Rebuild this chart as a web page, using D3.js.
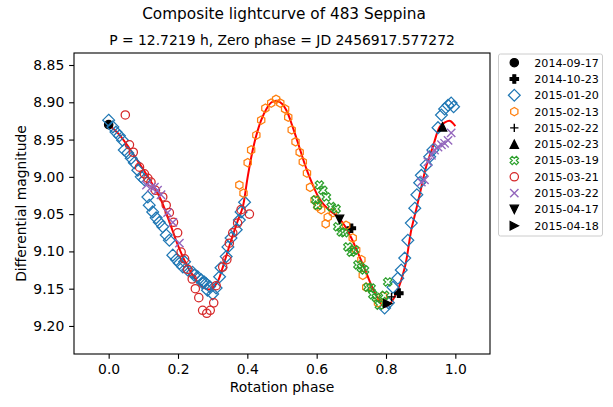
<!DOCTYPE html>
<html>
<head>
<meta charset="utf-8">
<script src="https://cdn.jsdelivr.net/npm/d3@7"></script>
<style>
  body { margin: 0; background: #fff; }
  svg { display: block; }
  text { font-family: "DejaVu Sans", "Liberation Sans", sans-serif; fill: #000; }
</style>
</head>
<body>
<svg id="chart" width="613" height="407"></svg>
<script>
// ---- Observing nights (legend labels) ----
const dates = ["2014-09-17", "2014-10-23", "2015-01-20", "2015-02-13", "2015-02-22",
               "2015-02-23", "2015-03-19", "2015-03-21", "2015-03-22", "2015-04-17", "2015-04-18"];

// ---- Phased photometry per night (rotation phase, differential magnitude) ----
const phase_2014_09_17 = [0.000];
const mag_2014_09_17   = [8.930];

const phase_2014_10_23 = [0.700, 0.837];
const mag_2014_10_23   = [9.069, 9.156];

const phase_2015_01_20 = [0.000, 0.012, 0.021, 0.031, 0.040, 0.045, 0.055, 0.065, 0.074, 0.084,
                          0.094, 0.103, 0.113, 0.117, 0.127, 0.137, 0.146, 0.156, 0.166, 0.175,
                          0.185, 0.195, 0.204, 0.214, 0.219, 0.228, 0.242, 0.247, 0.257, 0.267,
                          0.270, 0.276, 0.281, 0.285, 0.291, 0.300, 0.310, 0.320, 0.324, 0.339,
                          0.344, 0.353, 0.368, 0.377, 0.382, 0.392,
                          0.796, 0.807, 0.820, 0.834, 0.844, 0.854, 0.863, 0.873, 0.883, 0.889,
                          0.897, 0.902, 0.916, 0.926, 0.935, 0.950, 0.960, 0.969, 0.979, 0.988, 0.995];
const mag_2015_01_20   = [8.924, 8.933, 8.940, 8.945, 8.951, 8.964, 8.968, 8.975, 8.981, 8.991,
                          9.000, 9.004, 9.027, 9.038, 9.047, 9.055, 9.061, 9.067, 9.078, 9.085,
                          9.105, 9.111, 9.116, 9.121, 9.114, 9.125, 9.128, 9.132, 9.134, 9.138,
                          9.142, 9.141, 9.143, 9.152, 9.147, 9.157, 9.149, 9.134, 9.122, 9.107,
                          9.094, 9.082, 9.071, 9.058, 9.047, 9.034,
                          9.176, 9.169, 9.148, 9.136, 9.125, 9.109, 9.085, 9.062, 9.042, 9.024,
                          9.008, 8.998, 8.984, 8.973, 8.964, 8.934, 8.917, 8.909, 8.904, 8.901, 8.906];

const phase_2015_02_13 = [0.377, 0.389, 0.401, 0.411, 0.426, 0.440, 0.452, 0.469, 0.483, 0.495,
                          0.509, 0.518, 0.528, 0.539, 0.551, 0.560, 0.572, 0.581, 0.594, 0.603,
                          0.613, 0.626, 0.632, 0.647, 0.685, 0.704, 0.714, 0.729, 0.733, 0.743,
                          0.777, 0.791];
const mag_2015_02_13   = [9.011, 9.022, 8.981, 8.964, 8.944, 8.924, 8.908, 8.901, 8.896, 8.901,
                          8.909, 8.920, 8.937, 8.953, 8.967, 8.980, 8.995, 9.014, 9.031, 9.040,
                          9.044, 9.063, 9.054, 9.048, 9.065, 9.082, 9.098, 9.111, 9.132, 9.148,
                          9.169, 9.160];

const phase_2015_02_22 = [0.816];
const mag_2015_02_22   = [9.161];

const phase_2015_02_23 = [0.963];
const mag_2015_02_23   = [8.933];

const phase_2015_03_19 = [0.597, 0.603, 0.608, 0.618, 0.628, 0.642, 0.656, 0.661, 0.671, 0.680,
                          0.690, 0.700, 0.709, 0.719, 0.729, 0.738, 0.748, 0.757, 0.762, 0.772,
                          0.781, 0.796, 0.805];
const mag_2015_03_19   = [9.031, 9.038, 9.011, 9.018, 9.027, 9.040, 9.043, 9.067, 9.074, 9.075,
                          9.094, 9.101, 9.098, 9.118, 9.122, 9.125, 9.148, 9.149, 9.158, 9.162,
                          9.172, 9.159, 9.141];

const phase_2015_03_21 = [0.048, 0.060, 0.071, 0.089, 0.103, 0.113, 0.122, 0.135, 0.156, 0.166,
                          0.175, 0.187, 0.199, 0.209, 0.219, 0.228, 0.241, 0.250, 0.260, 0.271,
                          0.283, 0.293, 0.303, 0.310, 0.329, 0.341, 0.348, 0.358, 0.372, 0.382,
                          0.406];
const mag_2015_03_21   = [8.917, 8.957, 8.967, 8.987, 8.996, 9.002, 9.007, 9.018, 9.027, 9.038,
                          9.048, 9.061, 9.075, 9.101, 9.110, 9.124, 9.137, 9.150, 9.162, 9.179,
                          9.183, 9.179, 9.169, 9.146, 9.121, 9.111, 9.089, 9.075, 9.062, 9.044,
                          9.050];

const phase_2015_03_22 = [0.109, 0.123, 0.132, 0.141, 0.151, 0.170, 0.185, 0.204,
                          0.902, 0.911, 0.921, 0.931, 0.940, 0.950, 0.960, 0.969, 0.979, 0.988];
const mag_2015_03_22   = [9.011, 9.014, 9.014, 9.018, 9.024, 9.048, 9.061, 9.089,
                          9.007, 9.004, 8.980, 8.971, 8.964, 8.960, 8.957, 8.955, 8.951, 8.941];

const phase_2015_04_17 = [0.666];
const mag_2015_04_17   = [9.057];

const phase_2015_04_18 = [0.805];
const mag_2015_04_18   = [9.170];

// ---- Fourier fit of the composite lightcurve ----
const fitPhase = [0.000, 0.030, 0.060, 0.090, 0.120, 0.150, 0.175, 0.200, 0.225, 0.250,
                  0.275, 0.290, 0.300, 0.315, 0.330, 0.350, 0.370, 0.387, 0.400, 0.412,
                  0.425, 0.440, 0.455, 0.470, 0.485, 0.500, 0.515, 0.530, 0.545, 0.560,
                  0.575, 0.590, 0.605, 0.620, 0.640, 0.660, 0.680, 0.700, 0.720, 0.740,
                  0.760, 0.780, 0.795, 0.810, 0.830, 0.855, 0.873, 0.887, 0.900, 0.916,
                  0.935, 0.955, 0.970, 0.985, 1.000];
const fitMag   = [8.930, 8.943, 8.962, 8.983, 9.005, 9.030, 9.060, 9.092, 9.118, 9.137,
                  9.149, 9.151, 9.149, 9.140, 9.120, 9.090, 9.062, 9.040, 9.003, 8.972,
                  8.946, 8.924, 8.909, 8.900, 8.898, 8.902, 8.913, 8.932, 8.953, 8.975,
                  8.995, 9.012, 9.027, 9.037, 9.046, 9.053, 9.065, 9.082, 9.103, 9.125,
                  9.148, 9.166, 9.174, 9.171, 9.156, 9.120, 9.071, 9.044, 9.018, 8.986,
                  8.960, 8.933, 8.927, 8.925, 8.932];

// ---- Axis ticks ----
const xTicks = [0.0, 0.2, 0.4, 0.6, 0.8, 1.0];
const yTicks = [8.85, 8.90, 8.95, 9.00, 9.05, 9.10, 9.15, 9.20];

const phases = [phase_2014_09_17, phase_2014_10_23, phase_2015_01_20, phase_2015_02_13, phase_2015_02_22,
                phase_2015_02_23, phase_2015_03_19, phase_2015_03_21, phase_2015_03_22, phase_2015_04_17, phase_2015_04_18];
const mags   = [mag_2014_09_17, mag_2014_10_23, mag_2015_01_20, mag_2015_02_13, mag_2015_02_22,
                mag_2015_02_23, mag_2015_03_19, mag_2015_03_21, mag_2015_03_22, mag_2015_04_17, mag_2015_04_18];

// Marker style for each night
const styles = [
  { marker: "o", color: "#000000", filled: true },
  { marker: "P", color: "#000000", filled: true },
  { marker: "D", color: "#1f77b4", filled: false },
  { marker: "h", color: "#ff7f0e", filled: false },
  { marker: "+", color: "#000000", filled: false },
  { marker: "^", color: "#000000", filled: true },
  { marker: "X", color: "#2ca02c", filled: false },
  { marker: "o", color: "#d62728", filled: false },
  { marker: "x", color: "#9467bd", filled: false },
  { marker: "v", color: "#000000", filled: true },
  { marker: ">", color: "#000000", filled: true }
];

const series = dates.map((d, i) => ({
  label: d,
  points: phases[i].map((p, j) => ({ phase: p, mag: mags[i][j] })),
  ...styles[i]
}));

// ---- Layout ----
const W = 613, H = 407;
const plot = { left: 74, right: 490, top: 53, bottom: 354 };
const MS = 8.33;  // marker size in px

const svg = d3.select("#chart");

const x = d3.scaleLinear().domain([-0.1, 1.1]).range([plot.left, plot.right]);
// magnitudes grow downward
const y = d3.scaleLinear().domain([8.8339, 9.2376]).range([plot.top, plot.bottom]);

// Marker outline generator (unit shapes scaled to marker size s)
function markerPath(kind, s) {
  const u = s / 2;
  const poly = pts => "M" + pts.map(p => p[0].toFixed(2) + "," + p[1].toFixed(2)).join("L") + "Z";
  switch (kind) {
    case "o": return d3.path().toString() || `M${u},0A${u},${u} 0 1,1 ${-u},0A${u},${u} 0 1,1 ${u},0Z`;
    case "D": { const h = 0.7071 * s; return poly([[0, -h], [h, 0], [0, h], [-h, 0]]); }
    case "h": {
      const pts = [];
      for (let k = 0; k < 6; k++) {
        const a = Math.PI / 2 + k * Math.PI / 3;
        pts.push([u * Math.cos(a), -u * Math.sin(a)]);
      }
      return poly(pts);
    }
    case "^": return poly([[0, -u], [-u, u], [u, u]]);
    case "v": return poly([[0, u], [-u, -u], [u, -u]]);
    case ">": return poly([[u, 0], [-u, -u], [-u, u]]);
    case "P": {
      const t = s / 6;
      return poly([[-t, -u], [t, -u], [t, -t], [u, -t], [u, t], [t, t], [t, u], [-t, u], [-t, t], [-u, t], [-u, -t], [-t, -t]]);
    }
    case "X": {
      const base = [[-1, -2], [0, -1], [1, -2], [2, -1], [1, 0], [2, 1], [1, 2], [0, 1], [-1, 2], [-2, 1], [-1, 0], [-2, -1]];
      return poly(base.map(p => [p[0] * s / 4, p[1] * s / 4]));
    }
    case "+": return `M${-u},0H${u}M0,${-u}V${u}`;
    case "x": return `M${-u},${-u}L${u},${u}M${-u},${u}L${u},${-u}`;
  }
}
function circlePath(u) {
  return `M${u},0A${u},${u} 0 1,1 ${-u},0A${u},${u} 0 1,1 ${u},0Z`;
}
function shapeFor(kind, s) {
  return kind === "o" ? circlePath(s / 2) : markerPath(kind, s);
}
function applyStyle(sel, st) {
  const lineOnly = st.marker === "+" || st.marker === "x";
  sel.attr("d", shapeFor(st.marker, MS))
     .attr("fill", st.filled ? st.color : "none")
     .attr("stroke", st.color)
     .attr("stroke-width", lineOnly ? 1.4 : 1.25)
     .attr("stroke-linejoin", "miter");
}

// ---- Fit curve ----
const fitData = fitPhase.map((p, i) => ({ phase: p, mag: fitMag[i] }));
const line = d3.line().x(d => x(d.phase)).y(d => y(d.mag)).curve(d3.curveCatmullRom.alpha(0.5));

const clip = svg.append("defs").append("clipPath").attr("id", "plotclip")
  .append("rect").attr("x", plot.left).attr("y", plot.top)
  .attr("width", plot.right - plot.left).attr("height", plot.bottom - plot.top);

const gData = svg.append("g").attr("clip-path", "url(#plotclip)");

gData.append("path")
  .datum(fitData)
  .attr("d", line)
  .attr("fill", "none")
  .attr("stroke", "#ff0000")
  .attr("stroke-width", 2);

// ---- Observations ----
series.forEach(st => {
  gData.append("g")
    .selectAll("path")
    .data(st.points)
    .join("path")
    .attr("transform", d => `translate(${x(d.phase)},${y(d.mag)})`)
    .call(applyStyle, st);
});

// ---- Axes ----
const tickLen = 4.86, tickPad = 4.86;
const xAxis = d3.axisBottom(x).tickValues(xTicks).tickFormat(d3.format(".1f"))
  .tickSizeInner(tickLen).tickSizeOuter(0).tickPadding(tickPad);
const yAxis = d3.axisLeft(y).tickValues(yTicks).tickFormat(d3.format(".2f"))
  .tickSizeInner(tickLen).tickSizeOuter(0).tickPadding(tickPad);

const gx = svg.append("g").attr("transform", `translate(0,${plot.bottom})`).call(xAxis);
const gy = svg.append("g").attr("transform", `translate(${plot.left},0)`).call(yAxis);
[gx, gy].forEach(g => {
  g.select(".domain").remove();
  g.selectAll(".tick line").attr("stroke", "#000").attr("stroke-width", 1.1);
  g.selectAll(".tick text").attr("font-size", "13.9px").attr("font-family", "DejaVu Sans").attr("fill", "#000");
});

// Frame
svg.append("rect")
  .attr("x", plot.left).attr("y", plot.top)
  .attr("width", plot.right - plot.left).attr("height", plot.bottom - plot.top)
  .attr("fill", "none").attr("stroke", "#000").attr("stroke-width", 1.1);

// ---- Titles and labels ----
svg.append("text")
  .attr("x", 284).attr("y", 19)
  .attr("text-anchor", "middle")
  .attr("font-size", "15.3px")
  .text("Composite lightcurve of 483 Seppina");

svg.append("text")
  .attr("x", (plot.left + plot.right) / 2).attr("y", 45)
  .attr("text-anchor", "middle")
  .attr("font-size", "13.9px")
  .text("P = 12.7219 h, Zero phase = JD 2456917.577272");

svg.append("text")
  .attr("x", (plot.left + plot.right) / 2).attr("y", 392)
  .attr("text-anchor", "middle")
  .attr("font-size", "13.9px")
  .text("Rotation phase");

svg.append("text")
  .attr("transform", `translate(26,${(plot.top + plot.bottom) / 2}) rotate(-90)`)
  .attr("text-anchor", "middle")
  .attr("font-size", "13.9px")
  .text("Differential magnitude");

// ---- Legend ----
const legend = { x: 498.5, y: 54, w: 104, h: 182, row0: 62.7, step: 16.3, mx: 514.3, tx: 534.3 };
const gl = svg.append("g");
gl.append("rect")
  .attr("x", legend.x).attr("y", legend.y)
  .attr("width", legend.w).attr("height", legend.h)
  .attr("rx", 2).attr("ry", 2)
  .attr("fill", "#fff").attr("fill-opacity", 0.8)
  .attr("stroke", "#cccccc").attr("stroke-width", 1);

series.forEach((st, i) => {
  const cy = legend.row0 + i * legend.step;
  gl.append("path")
    .attr("transform", `translate(${legend.mx},${cy})`)
    .call(applyStyle, st);
  gl.append("text")
    .attr("x", legend.tx).attr("y", cy)
    .attr("dy", "0.36em")
    .attr("font-size", "11.1px")
    .text(st.label);
});
</script>
</body>
</html>
